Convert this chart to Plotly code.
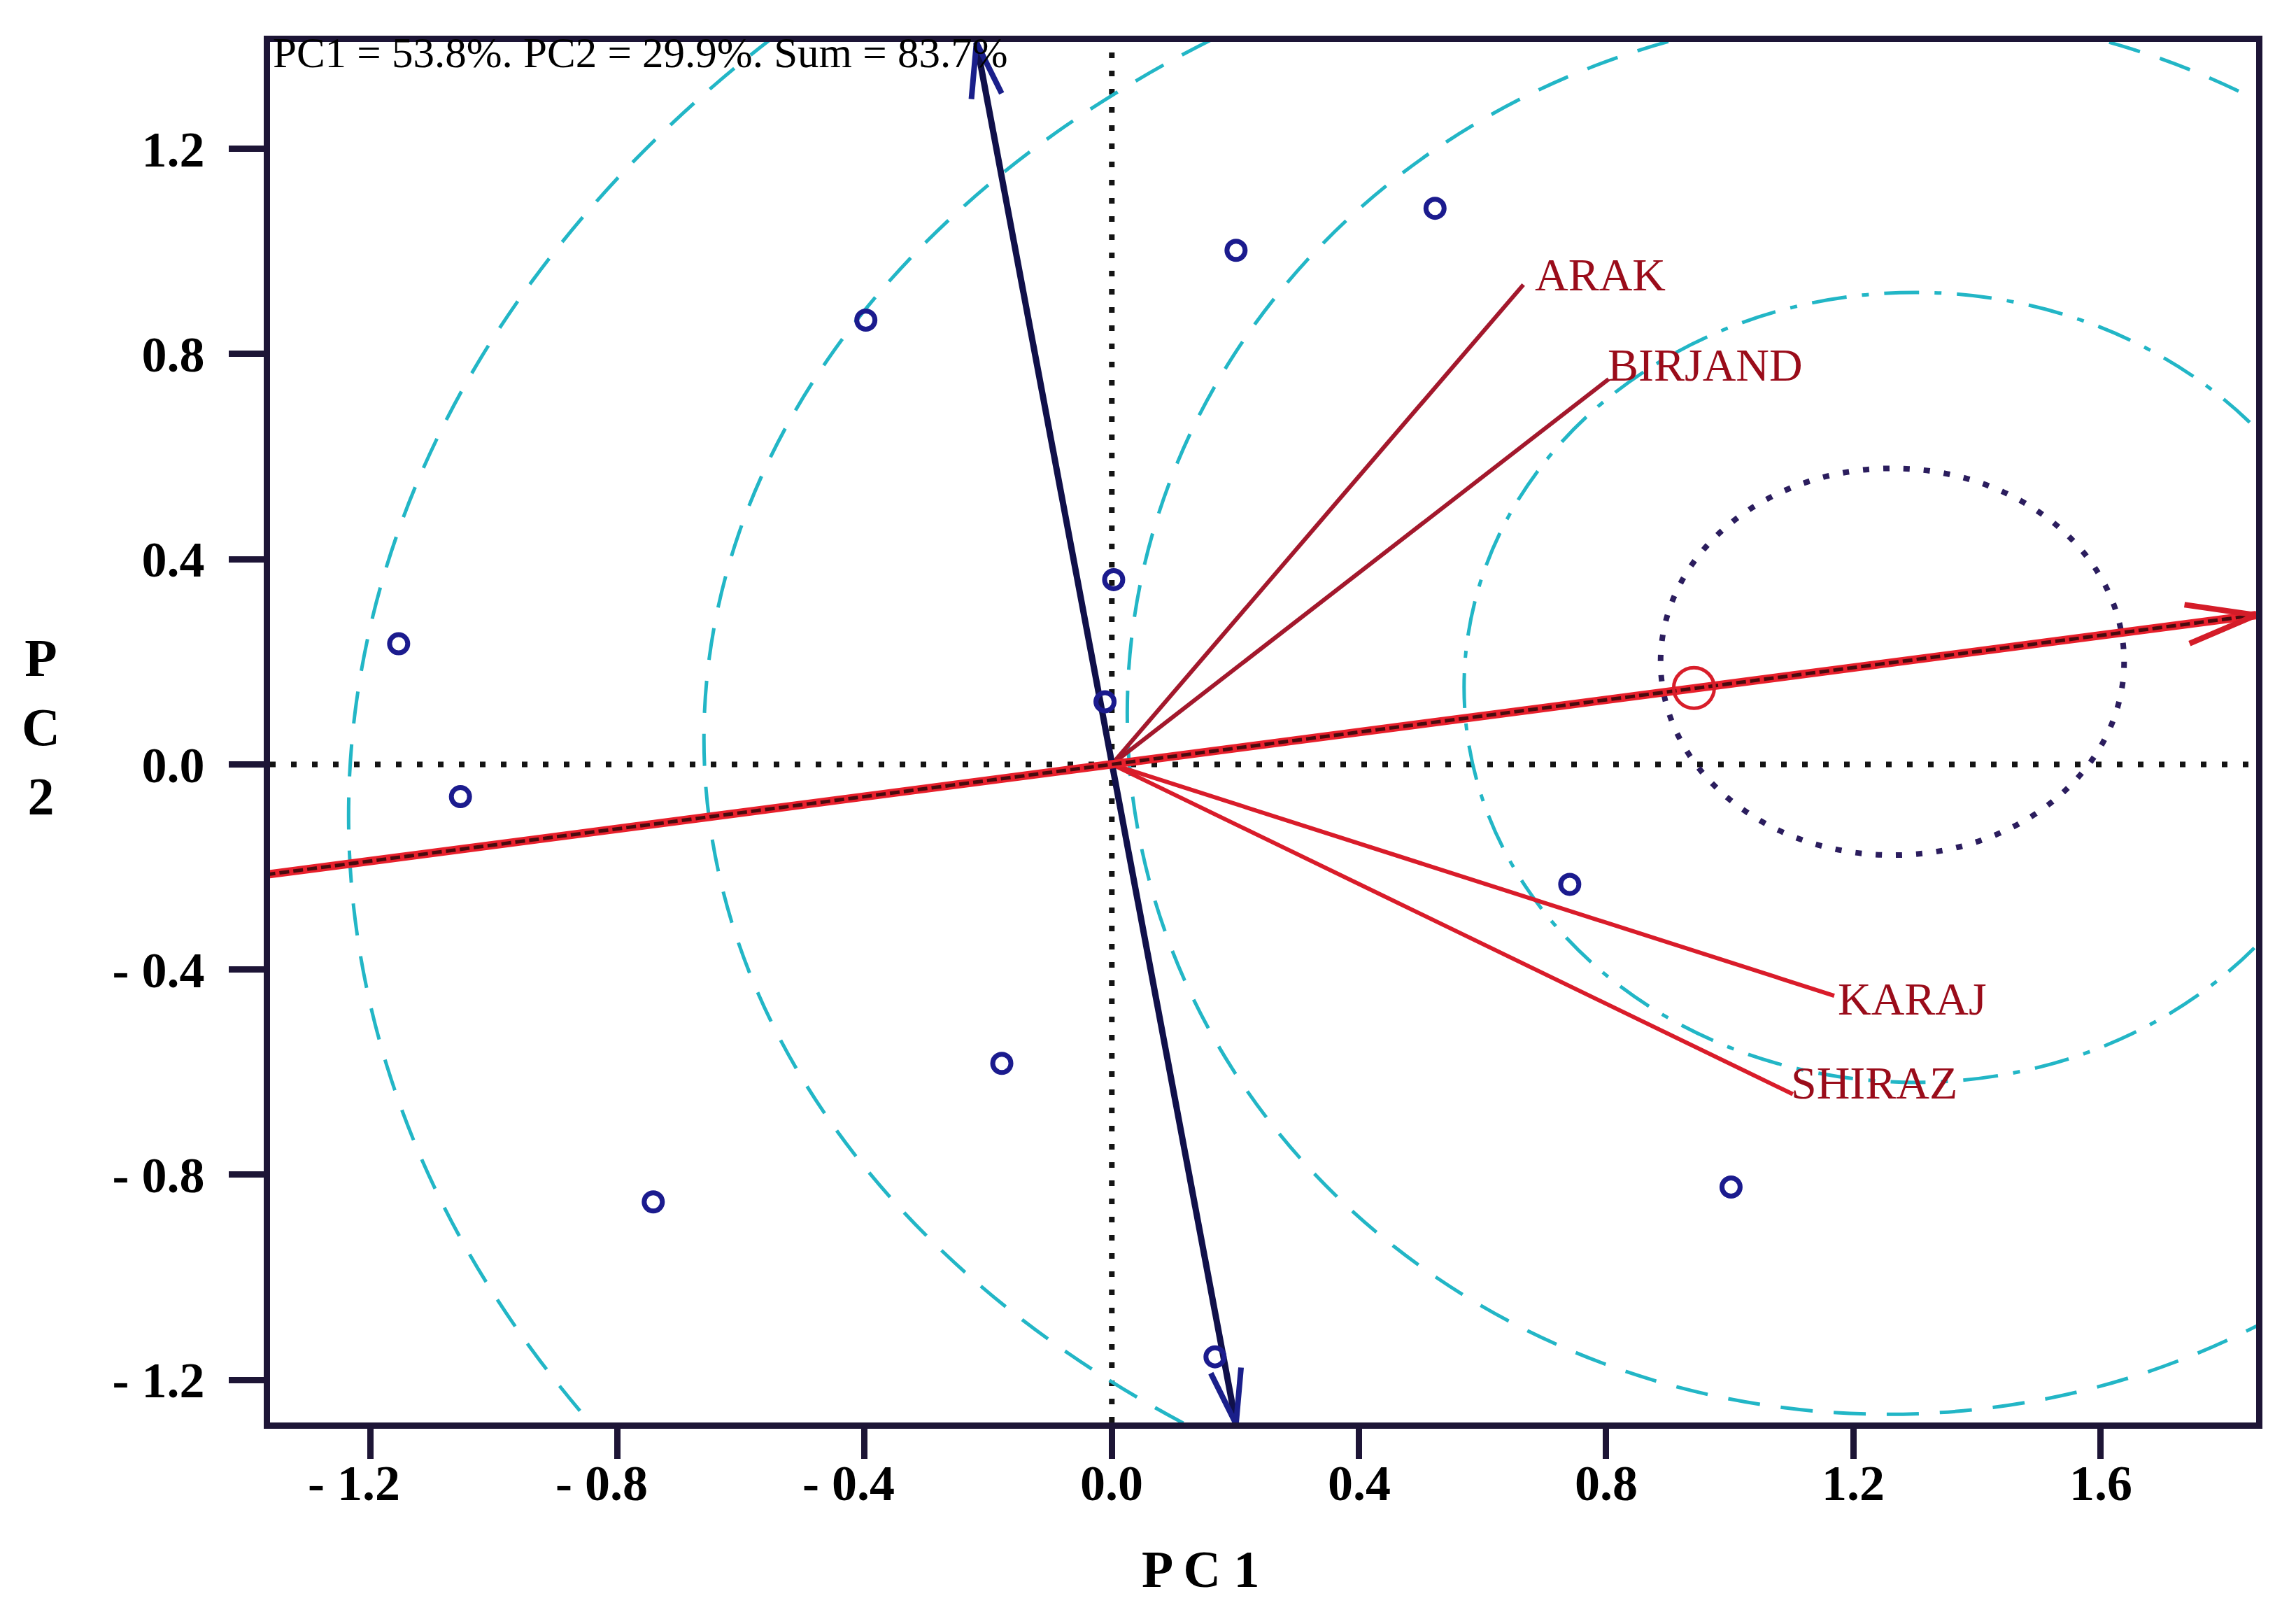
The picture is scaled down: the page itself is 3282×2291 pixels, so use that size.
import numpy as np
import plotly.graph_objects as go

# ---------------- data ----------------
# genotype scores (blue open circles)
geno_pc1 = [-1.154, -1.054, -0.398, -0.742, -0.178, 0.003, -0.011, 0.201, 0.523, 0.741, 1.002, 0.167]
geno_pc2 = [0.235, -0.063, 0.866, -0.853, -0.583, 0.360, 0.122, 1.002, 1.084, -0.234, -0.824, -1.155]

# environment vectors (red)
env_names = ["ARAK", "BIRJAND", "KARAJ", "SHIRAZ"]
env_pc1 = [0.666, 0.804, 1.169, 1.102]
env_pc2 = [0.935, 0.751, -0.451, -0.643]

# average-environment axis (AEA) tip and average environment marker
aea_tip = [1.852, 0.291]
avg_env = [0.942, 0.149]
# ATC ordinate ends
atc_top = [-0.219, 1.407]
atc_bottom = [0.201, -1.286]

# concentric circles around ideal genotype (centre x, centre y, radius x, radius y)
circ_cx = [1.300, 1.255, 1.255, 1.255]
circ_cy = [0.150, 0.100, 0.050, -0.100]
circ_rx = [0.730, 1.230, 1.915, 2.490]
circ_ry = [0.770, 1.367, 1.660, 2.200]
ideal_circle = [1.263, 0.200, 0.375, 0.377]

x_ticks = [-1.2, -0.8, -0.4, 0.0, 0.4, 0.8, 1.2, 1.6]
x_ticktext = ["- 1.2", "- 0.8", "- 0.4", "0.0", "0.4", "0.8", "1.2", "1.6"]
y_ticks = [-1.2, -0.8, -0.4, 0.0, 0.4, 0.8, 1.2]
y_ticktext = ["- 1.2", "- 0.8", "- 0.4", "0.0", "0.4", "0.8", "1.2"]

subtitle = "PC1 = 53.8%. PC2 = 29.9%. Sum = 83.7%"

# ---------------- layout geometry / styles ----------------
W, H = 3282, 2291
LW = 9                      # axis frame line width
BOX_L, BOX_R, BOX_T, BOX_B = 373, 3222, 47, 2030   # frame line centres (px)
ML = BOX_L + LW / 2
MR = W - BOX_R + LW / 2
MT = BOX_T + LW / 2
MB = H - BOX_B + LW / 2
PW = W - ML - MR
PH = H - MT - MB
# pixel calibration of data: x=0 at 1581.2 px, 883.7 px/unit; y=0 at 1084.4 px, 733.5 px/unit
X0PX, SX = 1581.2, 883.7
Y0PX, SY = 1084.4, 733.5
XR = [(ML - X0PX) / SX, (W - MR - X0PX) / SX]
YR = [(Y0PX - (H - MB)) / SY, (Y0PX - MT) / SY]

SERIF = "Liberation Serif, Times New Roman, serif"
CYAN = "#22b6c6"
RED = "#d91c2a"
DARKRED = "#a3182c"
NAVY = "#10104a"
GENO = "#1b1b8e"
AXIS = "#1d1536"
LABEL_RED = "#9a0c1a"

label_shift_x = [14, -4, 3, -5]
label_shift_y = [14, 20, -4, 16]
env_colors = [DARKRED, DARKRED, RED, RED]


def chevron(tip, frm, L, Hw):
    dx = (tip[0] - frm[0]) * SX
    dy = (tip[1] - frm[1]) * SY
    n = np.hypot(dx, dy)
    ux, uy = dx / n, dy / n
    px, py = -uy, ux
    p1 = (tip[0] + (-ux * L + px * Hw) / SX, tip[1] + (-uy * L + py * Hw) / SY)
    p2 = (tip[0] + (-ux * L - px * Hw) / SX, tip[1] + (-uy * L - py * Hw) / SY)
    return [p1[0], tip[0], p2[0]], [p1[1], tip[1], p2[1]]


fig = go.Figure()

# dotted reference axes
fig.add_shape(type="line", xref="paper", yref="y", x0=0, x1=1, y0=0, y1=0,
              line=dict(color="#141414", width=8, dash="8px,22px"), layer="below")
fig.add_shape(type="line", xref="x", yref="paper", x0=0, x1=0, y0=0, y1=1,
              line=dict(color="#141414", width=8, dash="8px,18px"), layer="below")

# concentric circles
for i in range(len(circ_cx)):
    dash = "50px,22px,10px,22px" if i == 0 else "46px,30px"
    fig.add_shape(type="circle", xref="x", yref="y",
                  x0=circ_cx[i] - circ_rx[i], x1=circ_cx[i] + circ_rx[i],
                  y0=circ_cy[i] - circ_ry[i], y1=circ_cy[i] + circ_ry[i],
                  line=dict(color=CYAN, width=5, dash=dash), layer="below")
fig.add_shape(type="circle", xref="x", yref="y",
              x0=ideal_circle[0] - ideal_circle[2], x1=ideal_circle[0] + ideal_circle[2],
              y0=ideal_circle[1] - ideal_circle[3], y1=ideal_circle[1] + ideal_circle[3],
              line=dict(color="#2b1d5e", width=8, dash="9px,20px"), layer="below")

# environment vectors
for i, name in enumerate(env_names):
    fig.add_trace(go.Scatter(x=[0, env_pc1[i]], y=[0, env_pc2[i]], mode="lines",
                             line=dict(color=env_colors[i], width=6), showlegend=False,
                             hoverinfo="skip"))

# ATC ordinate (navy, arrows both ends)
fig.add_trace(go.Scatter(x=[atc_bottom[0], atc_top[0]], y=[atc_bottom[1], atc_top[1]],
                         mode="lines", line=dict(color=NAVY, width=9),
                         showlegend=False, hoverinfo="skip"))
for tip in (atc_top, atc_bottom):
    cx, cy = chevron(tip, [0, 0], 78, 22)
    fig.add_trace(go.Scatter(x=cx, y=cy, mode="lines", line=dict(color="#1a1f8a", width=8),
                             showlegend=False, hoverinfo="skip", cliponaxis=False))

# AEA (thick red with dark core)
k = 0.8
fig.add_trace(go.Scatter(x=[-k * aea_tip[0], aea_tip[0]], y=[-k * aea_tip[1], aea_tip[1]],
                         mode="lines", line=dict(color="#e8202c", width=12),
                         showlegend=False, hoverinfo="skip"))
fig.add_trace(go.Scatter(x=[-k * aea_tip[0], aea_tip[0]], y=[-k * aea_tip[1], aea_tip[1]],
                         mode="lines", line=dict(color="#4a0a0e", width=5, dash="14px,6px"),
                         showlegend=False, hoverinfo="skip"))
cx, cy = chevron(aea_tip, [0, 0], 100, 28)
fig.add_trace(go.Scatter(x=cx, y=cy, mode="lines", line=dict(color="#d41c28", width=8),
                         showlegend=False, hoverinfo="skip"))

# average environment marker
fig.add_trace(go.Scatter(x=[avg_env[0]], y=[avg_env[1]], mode="markers",
                         marker=dict(symbol="circle-open", size=58, color="#d81e2a",
                                     line=dict(width=5, color="#d81e2a")),
                         showlegend=False, hoverinfo="skip"))

# genotypes
fig.add_trace(go.Scatter(x=geno_pc1, y=geno_pc2, mode="markers",
                         marker=dict(symbol="circle-open", size=26, color=GENO,
                                     line=dict(width=7, color=GENO)),
                         showlegend=False, hoverinfo="skip"))

# environment labels
for i, name in enumerate(env_names):
    fig.add_annotation(x=env_pc1[i], y=env_pc2[i], text=name, showarrow=False,
                       xanchor="left", yanchor="middle",
                       xshift=label_shift_x[i], yshift=label_shift_y[i],
                       font=dict(family=SERIF, size=66, color=LABEL_RED))

# subtitle
fig.add_annotation(xref="paper", yref="paper", x=(380 - ML) / PW, y=1.0, text=subtitle,
                   showarrow=False, xanchor="left", yanchor="top", yshift=20,
                   font=dict(family=SERIF, size=61, color="black"))

tickfont = dict(family=SERIF, size=72, color="black", weight="bold")

# x tick labels (numeric part centred on the tick, minus sign hanging left)
for v, t in zip(x_ticks, x_ticktext):
    neg = t.startswith("-")
    fig.add_annotation(x=v, xref="x", yref="paper", y=-(2113 - (H - MB)) / PH, text=t,
                       showarrow=False, yanchor="middle",
                       xanchor="right" if neg else "center", xshift=45 if neg else 0,
                       font=tickfont)

# axis titles
fig.add_annotation(xref="paper", yref="paper", x=(1708 - ML) / PW, y=-(2236 - (H - MB)) / PH,
                   text="P C 1", showarrow=False, xanchor="center", yanchor="middle",
                   font=dict(family=SERIF, size=74, color="black", weight="bold"))
fig.add_annotation(xref="paper", yref="paper", x=-(ML - 50) / PW, y=((H - MB) - 1031) / PH,
                   text="P<br>C<br>2", showarrow=False, xanchor="center", yanchor="middle",
                   font=dict(family=SERIF, size=76, color="black", weight="bold"))

fig.update_xaxes(range=XR, tickvals=x_ticks, showticklabels=False, showgrid=False,
                 zeroline=False, showline=True, mirror=True, linecolor=AXIS, linewidth=LW,
                 ticks="outside", ticklen=43, tickwidth=9, tickcolor=AXIS)
fig.update_yaxes(range=YR, tickvals=y_ticks, ticktext=y_ticktext, showgrid=False,
                 zeroline=False, showline=True, mirror=True, linecolor=AXIS, linewidth=LW,
                 ticks="outside", ticklen=50, tickwidth=9, tickcolor=AXIS, tickfont=tickfont,
                 ticklabelstandoff=20)

fig.update_layout(width=W, height=H, margin=dict(l=ML, r=MR, t=MT, b=MB),
                  plot_bgcolor="white", paper_bgcolor="white", showlegend=False)

fig.write_html("out.html")
